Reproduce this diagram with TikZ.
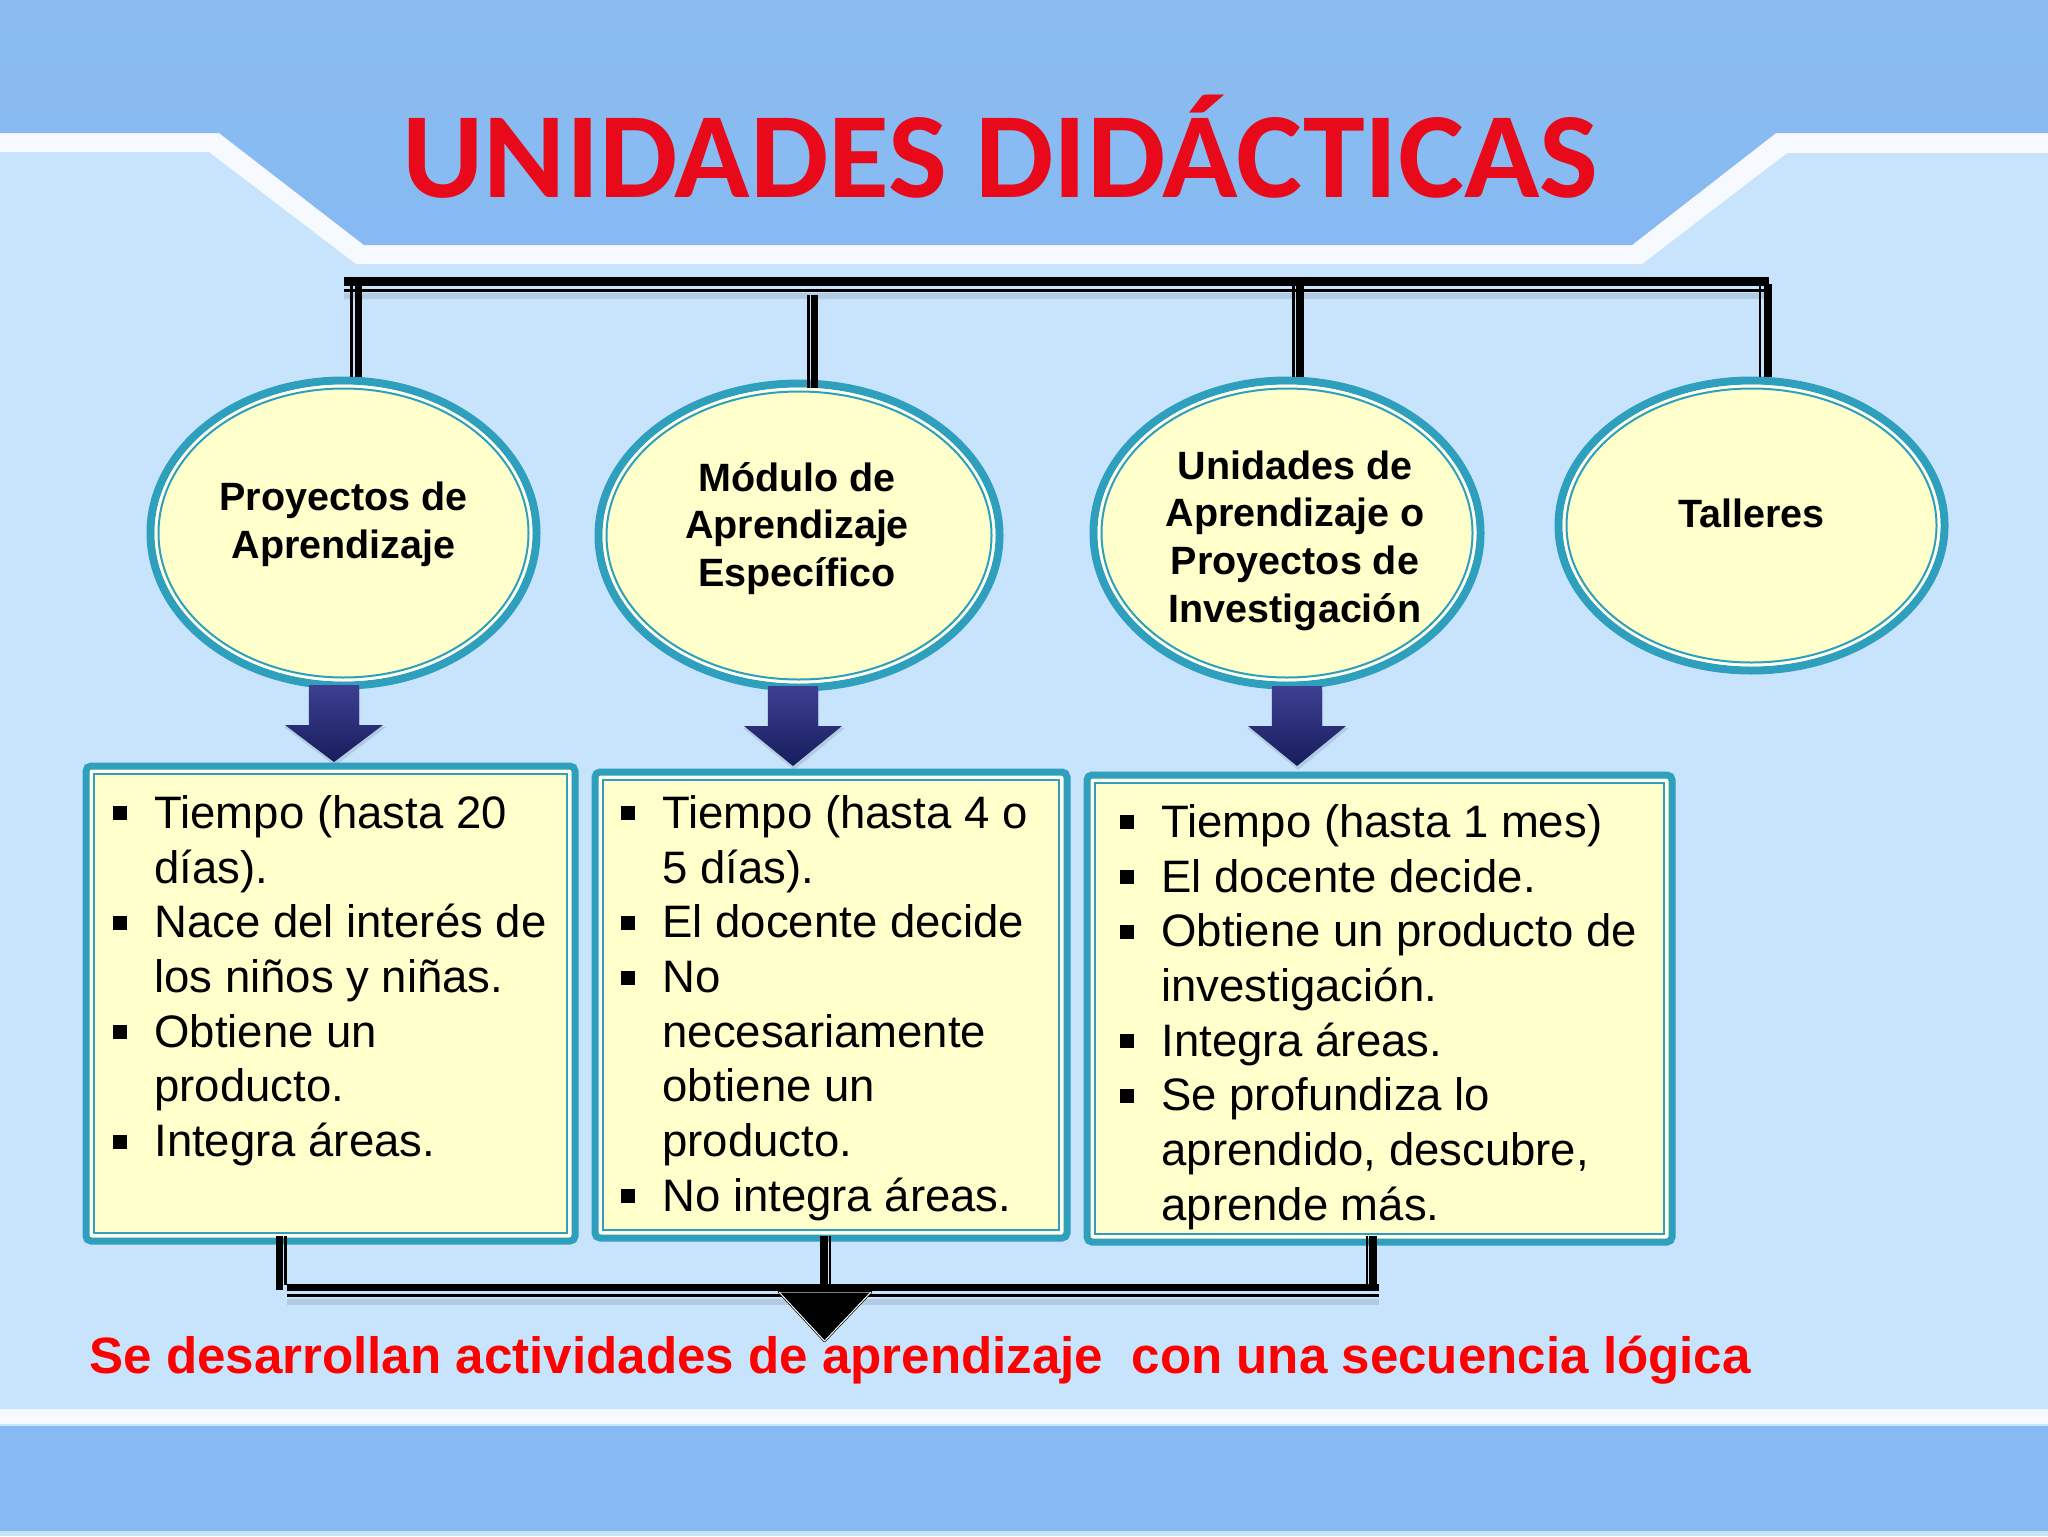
\documentclass[tikz,border=0pt]{standalone}
\usepackage{fontspec}
\setmainfont{Liberation Sans}
\newfontfamily\titlefont[FakeStretch=1.021]{Carlito}
\usetikzlibrary{shapes.geometric,calc}
\definecolor{bandblue}{HTML}{87BAF2}
\definecolor{bandtop}{HTML}{8ABCF1}
\definecolor{palebg}{HTML}{C8E3FC}
\definecolor{edgewhite}{HTML}{F6F9FD}
\definecolor{tealedge}{HTML}{2F9FBE}
\definecolor{cream}{HTML}{FFFFCC}
\definecolor{arrowtop}{HTML}{3F3F92}
\definecolor{arrowbot}{HTML}{161D5C}
\definecolor{titlered}{HTML}{E8091A}
\tikzset{
  x=0.5pt,y=-0.5pt,
  ovalshape/.style={shape=ellipse,draw=tealedge,fill=cream,line width=4pt,inner sep=0pt,outer sep=0pt},
  rectshape/.style={shape=rectangle,draw=tealedge,fill=cream,line width=3.5pt,inner sep=0pt,outer sep=0pt,rounded corners=2.5pt},
  ringline/.style={draw=tealedge,line width=1pt},
  gapline/.style={draw=white,opacity=0.7,line width=1.4pt},
  ovaltext/.style={font=\fontsize{19.75}{23.85}\selectfont\bfseries,align=center,inner sep=0pt},
  listtext/.style={font=\fontsize{22.75}{27.35}\selectfont,align=left,anchor=north west,inner sep=0pt},
  barthick/.style={draw=black,line width=4.5pt},
  barthin/.style={draw=black,line width=1.5pt},
  barshadow/.style={draw=black,opacity=0.10,line width=3pt},
  vthick/.style={draw=black,line width=3.7pt},
  vthin/.style={draw=black,line width=1.4pt},
}
\newcommand{\ovalnode}[5]{%
  \node[ovalshape,minimum width={#4*0.5pt},minimum height={#5*0.5pt}] (#1) at (#2,#3) {};
  \draw[gapline] (#1.center) ellipse [x radius={#4/2-5.5},y radius={#5/2-5.5}];
  \draw[ringline] (#1.center) ellipse [x radius={#4/2-8},y radius={#5/2-8}];}
\newcommand{\boxnode}[5]{%
  \node[rectshape,minimum width={(#4-#2)*0.5pt},minimum height={(#5-#3)*0.5pt}] (#1) at ({(#2+#4)/2},{(#3+#5)/2}) {};
  \draw[gapline] ([shift={(5.5,5.5)}]#1.north west) rectangle ([shift={(-5.5,-5.5)}]#1.south east);
  \draw[ringline] ([shift={(8,8)}]#1.north west) rectangle ([shift={(-8,-8)}]#1.south east);}
\newcommand{\blockarrow}[3]{% center x, top y, tip y
  \begin{scope}[shift={(#1,#2)}]
    \fill[black,opacity=0.10] (-26,4) -- (26,4) -- (26,42) -- (52,42) -- (1,{#3-#2+4}) -- (-50,42) -- (-26,42) -- cycle;
    \shade[top color=arrowtop,bottom color=arrowbot] (-25,0) -- (25,0) -- (25,40) -- (49,40) -- (0,{#3-#2}) -- (-49,40) -- (-25,40) -- cycle;
  \end{scope}}
\newcommand{\li}{\llap{\raisebox{4pt}{\rule{7pt}{7pt}}\hspace{13.5pt}}}
\newcommand{\fs}{\rule{0pt}{20pt}}
\begin{document}
\begin{tikzpicture}
\useasboundingbox (0,0) rectangle (2048,1536);
% background
\fill[palebg] (0,0) rectangle (2048,1536);
\fill[edgewhite] (0,0) -- (2048,0) -- (2048,153) -- (1787,153) -- (1642,264) -- (356,264) -- (209,152) -- (0,152) -- cycle;
\shade[top color=bandtop,bottom color=bandblue] (0,0) -- (2048,0) -- (2048,133) -- (1776,133) -- (1632,245) -- (364,245) -- (219,133) -- (0,133) -- cycle;
\fill[edgewhite] (0,1409) rectangle (2048,1424);
\fill[bandblue] (0,1426) rectangle (2048,1531);
% title
\node[font=\titlefont\bfseries\fontsize{61}{70}\selectfont,text=titlered,anchor=base,inner sep=0pt] (title) at (1000.5,197) {UNIDADES DIDÁCTICAS};
% ovals
\ovalnode{e1}{343.5}{533}{386}{305}
\ovalnode{e2}{799}{535.5}{401}{304}
\ovalnode{e3}{1287}{533}{387}{305}
\ovalnode{e4}{1751.5}{525.5}{386}{290}
\node[ovaltext] (te1) at (343.5,524.5) {Proyectos de\\Aprendizaje};
\node[ovaltext] (te2) at (797,528.5) {Módulo de\\Aprendizaje\\Específico};
\node[ovaltext] (te3) at (1295,540.5) {Unidades de\\Aprendizaje o\\Proyectos de\\Investigación};
\node[ovaltext] (te4) at (1751.5,513) {Talleres};
% top bracket
\coordinate (tl) at (344,281.5);
\coordinate (tr) at (1769,281.5);
\draw[barshadow] ([yshift=-7pt]tl) -- ([yshift=-7pt]tr);
\draw[barthick] (tl) -- (tr);
\draw[barthin] ([yshift=-4.3pt]tl) -- ([yshift=-4.3pt]tr);
\coordinate (v1) at (358.5,278);
\coordinate (v2) at (814.5,295);
\coordinate (v2e) at (814.5,388);
\coordinate (v3) at (1300,278);
\coordinate (v4) at (1768,284);
\draw[vthick] (v1) -- ([yshift=2pt]v1 |- e1.north);
\draw[vthin] ([xshift=-3.5pt]v1) -- ([xshift=-3.5pt,yshift=2pt]v1 |- e1.north);
\draw[vthick] (v2) -- (v2e);
\draw[vthin] ([xshift=-3.2pt]v2) -- ([xshift=-3.2pt]v2e);
\draw[vthick] (v3) -- ([yshift=2pt]v3 |- e3.north);
\draw[vthin] ([xshift=-3.2pt]v3) -- ([xshift=-3.2pt,yshift=2pt]v3 |- e3.north);
\draw[vthick] (v4) -- ([yshift=2pt]v4 |- e4.north);
\draw[vthin] ([xshift=-4pt]v4) -- ([xshift=-4pt,yshift=2pt]v4 |- e4.north);
% block arrows
\blockarrow{334}{685}{762}
\blockarrow{793}{686}{766}
\blockarrow{1297}{686}{766}
% boxes
\boxnode{b1}{86}{766}{575}{1241}
\boxnode{b2}{595}{772}{1067}{1238}
\boxnode{b3}{1087}{775}{1672}{1242}
\node[listtext] (tb1) at (154,788) {\fs\li Tiempo (hasta 20\\días).\\\li Nace del interés de\\los niños y niñas.\\\li Obtiene un\\producto.\\\li Integra áreas.};
\node[listtext] (tb2) at (662,788) {\fs\li Tiempo (hasta 4 o\\5 días).\\\li El docente decide\\\li No\\necesariamente\\obtiene un\\producto.\\\li No integra áreas.};
\node[listtext] (tb3) at (1161,797) {\fs\li Tiempo (hasta 1 mes)\\\li El docente decide.\\\li Obtiene un producto de\\investigación.\\\li Integra áreas.\\\li Se profundiza lo\\aprendido, descubre,\\aprende más.};
% bottom bracket
\coordinate (bl) at (287,1287.5);
\coordinate (br) at (1379,1287.5);
\coordinate (u1) at (279.5,1236);
\coordinate (u2) at (824,1236);
\coordinate (u3) at (1373,1236);
\draw[vthick] (u1) -- (u1 |- 0,1290);
\draw[vthin] ([xshift=3pt]u1) -- ([xshift=3pt]u1 |- 0,1285);
\draw[vthick] (u2) -- (u2 |- bl);
\draw[vthin] ([xshift=3pt]u2) -- ([xshift=3pt]u2 |- bl);
\draw[vthick] (u3) -- (u3 |- br);
\draw[vthin] ([xshift=-3pt]u3) -- ([xshift=-3pt]u3 |- br);
\draw[barshadow] ([yshift=-7pt]bl) -- ([yshift=-7pt]br);
\draw[draw=black,line width=3.7pt] (bl) -- (br);
\draw[barthin] ([yshift=-4pt]bl) -- ([yshift=-4pt]br);
% convergence triangle
\coordinate (ta) at (779,1292);
\coordinate (tb) at (871,1292);
\coordinate (tc) at (824.5,1341);
\draw[draw=black,fill=black,line width=1.2pt,line join=round] (ta) -- (tb) -- (tc) -- cycle;
\draw[draw=white,line width=0.5pt,line join=miter] (ta) -- (tc) -- (tb);
\draw[draw=white,opacity=0.5,line width=0.4pt] (ta) -- (tb);
% footer text
\node[font=\fontsize{25.55}{29}\selectfont\bfseries,text=red,anchor=base west,inner sep=0pt] (foot) at (89,1373) {Se desarrollan actividades de aprendizaje\ \ con una secuencia lógica};
\end{tikzpicture}
\end{document}
